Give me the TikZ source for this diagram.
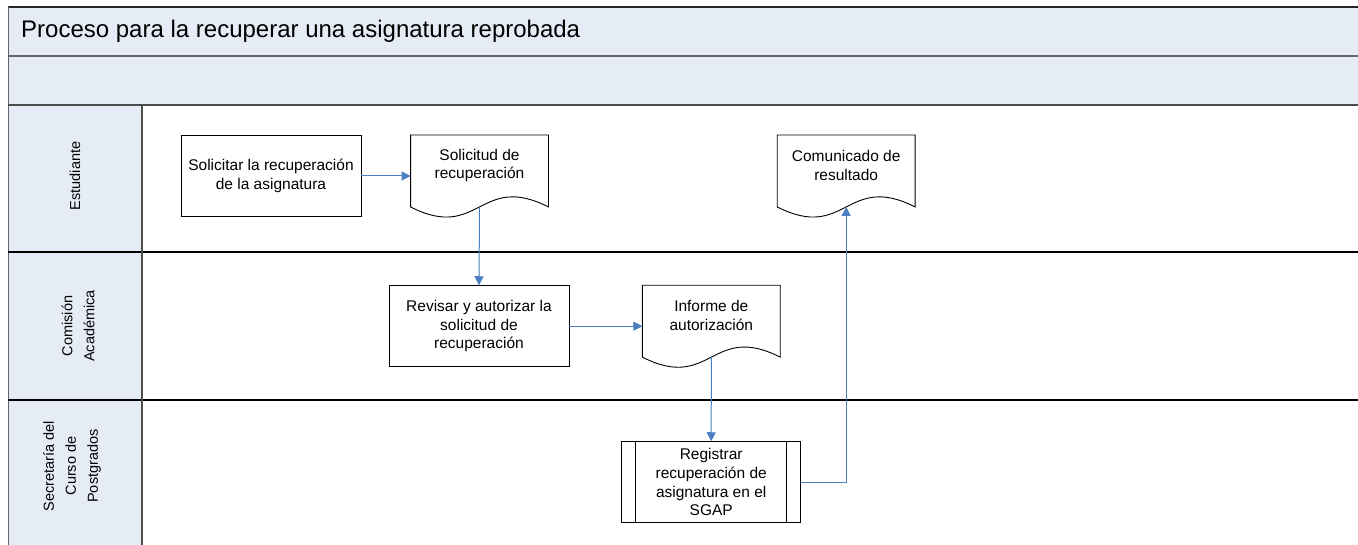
\documentclass[tikz,border=0pt]{standalone}
\usepackage{fontspec}
\setmainfont{Liberation Sans}
\usetikzlibrary{arrows.meta,calc}
\definecolor{hdr}{RGB}{230,236,246}
\definecolor{conn}{RGB}{74,126,193}
\newcommand\docoutline[1]{%
  \draw[line width=0.9pt] (#1.north west) -- (#1.north east) -- ($(#1.south east)+(0,-10)$)
    .. controls ($(#1.south)+(0,-45)$) and ($(#1.south)+(0,25)$) .. ($(#1.south west)+(0,-10)$) -- cycle;}
\begin{document}
\begin{tikzpicture}[x=1pt,y=-1pt,
  boxfont/.style={font=\fontsize{15.5}{18.7}\selectfont},
  proc/.style={draw, line width=0.9pt, minimum width=180pt, minimum height=81pt, inner sep=0pt, align=center, boxfont},
  docnode/.style={minimum width=137.5pt, minimum height=81.5pt, inner sep=0pt},
  doctext/.style={align=center, boxfont, inner sep=0pt, yshift=10.5pt},
  flow/.style={draw=conn, line width=1pt, -{Triangle[length=9pt,width=9pt,fill=conn]}},
  flowline/.style={draw=conn, line width=1pt},
  lanelabel/.style={rotate=90, align=center, inner sep=0pt, font=\fontsize{14.5}{22}\selectfont},
  laneline/.style={line width=1.5pt}
]
\useasboundingbox (0,0) rectangle (1358,545);
% backgrounds
\fill[hdr] (8,7) rectangle (1358,105);
\fill[hdr] (8,105) rectangle (142,545);
% lines
\draw[laneline, black!85] (1358,7) -- (8,7);
\draw[line width=1pt, black!60] (8,7) -- (8,545);
\draw[laneline, black!60] (8,56) -- (1358,56);
\draw[laneline, black!70] (8,105) -- (1358,105);
\draw[laneline] (8,252) -- (1358,252);
\draw[laneline] (8,400) -- (1358,400);
\draw[line width=2pt, black!70] (142,105) -- (142,545);
% title
\node[anchor=base west, inner sep=0pt, font=\fontsize{24}{28}\selectfont] (title) at (21,38) {Proceso para la recuperar una asignatura reprobada};
% lane labels
\node[lanelabel] (l1) at (75,176) {Estudiante};
\node[lanelabel] (l2) at (78,326) {Comisión\\Académica};
\node[lanelabel] (l3) at (72,466) {Secretaría del\\Curso de\\Postgrados};
% nodes
\node[proc] (sa) at (271,176) {Solicitar la recuperación\\de la asignatura};
\node[docnode, label={[doctext]center:Solicitud de\\recuperación}] (sol) at (479.5,176) {};
\docoutline{sol}
\node[proc] (rev) at (479,326.2) {Revisar y autorizar la\\solicitud de\\recuperación};
\node[docnode, label={[doctext]center:Informe de\\autorización}] (inf) at (711.3,326.2) {};
\docoutline{inf}
\node[proc, minimum width=179pt] (reg) at (711.2,482.2) {Registrar\\recuperación de\\asignatura en el\\SGAP};
\draw[line width=0.9pt] ($(reg.north west)+(14.3,0)$) -- ($(reg.south west)+(14.3,0)$);
\draw[line width=0.9pt] ($(reg.north east)+(-14.3,0)$) -- ($(reg.south east)+(-14.3,0)$);
\node[docnode, label={[doctext]center:Comunicado de\\resultado}] (com) at (846.2,176) {};
\docoutline{com}
% connectors
\draw[flow] (sa.east) -- (sol.west);
\draw[flow] ($(sol.south)+(0,-10)$) -- (rev.north);
\draw[flow] (rev.east) -- (inf.west);
\draw[flow] ($(inf.south)+(0,-10)$) -- (reg.north);
\coordinate (comb) at ($(com.south)+(0,-10)$);
\draw[flow] (reg.east) -| (comb);
\end{tikzpicture}
\end{document}
